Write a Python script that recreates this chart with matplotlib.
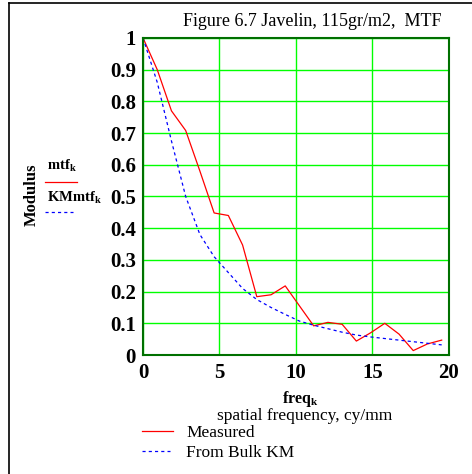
import matplotlib
matplotlib.use('Agg')
import matplotlib.pyplot as plt
from matplotlib.lines import Line2D

plt.rcParams['font.family'] = 'Liberation Serif'
plt.rcParams['mathtext.fontset'] = 'custom'
plt.rcParams['mathtext.rm'] = 'Liberation Serif'
plt.rcParams['mathtext.bf'] = 'Liberation Serif:bold'

# spatial frequency, cy/mm
freq = [0.0, 0.93, 1.86, 2.79, 3.72, 4.65, 5.58, 6.51, 7.44, 8.37, 9.30,
        10.23, 11.16, 12.09, 13.02, 13.95, 14.88, 15.81, 16.74, 17.67, 18.60, 19.53]
# measured MTF
mtf = [1.0, 0.90, 0.77, 0.708, 0.58, 0.448, 0.44, 0.347, 0.184, 0.19, 0.218,
       0.155, 0.092, 0.103, 0.097, 0.044, 0.07, 0.10, 0.066, 0.014, 0.035, 0.047]
# from bulk KM
kmmtf = [1.0, 0.86, 0.675, 0.50, 0.38, 0.31, 0.26, 0.21, 0.175, 0.15, 0.128,
         0.107, 0.094, 0.083, 0.072, 0.063, 0.057, 0.052, 0.047, 0.042, 0.037, 0.032]

xticks = [0, 5, 10, 15, 20]
yticks = [0, 0.1, 0.2, 0.3, 0.4, 0.5, 0.6, 0.7, 0.8, 0.9, 1]
ylabels = ['0', '0.1', '0.2', '0.3', '0.4', '0.5', '0.6', '0.7', '0.8', '0.9', '1']

fig = plt.figure(figsize=(4.72, 4.74), dpi=100)
ax = fig.add_axes([0.303, 0.251, 0.648, 0.669])

ax.plot(freq, mtf, color='#ff0000', lw=0.9)
ax.plot(freq, kmmtf, color='#0000ff', lw=0.9, ls=(0, (2.5, 2.5)))

ax.set_xlim(0, 20)
ax.set_ylim(0, 1)
ax.set_xticks(xticks)
ax.set_yticks(yticks)
ax.set_yticklabels(ylabels)
ax.grid(True, color='#00ff00', lw=1)
ax.tick_params(length=0, labelsize=15)
ax.tick_params(axis='y', pad=5)
ax.tick_params(axis='x', pad=6)
for lab in ax.get_xticklabels() + ax.get_yticklabels():
    lab.set_fontweight('bold')
for s in ax.spines.values():
    s.set_color('#007000')
    s.set_linewidth(1.5)

# title
fig.text(0.662, 0.955, 'Figure 6.7 Javelin, 115gr/m2,  MTF', ha='center',
         va='center', fontsize=13)

# y axis label and legend
fig.text(0.068, 0.59, 'Modulus', rotation=90, ha='center', va='center',
         fontsize=12, fontweight='bold')
fig.text(0.099, 0.651, r'$\mathbf{mtf}_\mathbf{k}$', ha='left', va='center',
         fontsize=10.5)
fig.add_artist(Line2D([0.095, 0.163], [0.617, 0.617], color='#ff0000', lw=0.9))
fig.text(0.099, 0.583, r'$\mathbf{KMmtf}_\mathbf{k}$', ha='left', va='center',
         fontsize=10.5)
fig.add_artist(Line2D([0.095, 0.155], [0.553, 0.553], color='#0000ff', lw=0.9,
                      ls=(0, (2.5, 2.5))))

# x axis label
fig.text(0.636, 0.158, r'$\mathbf{freq}_\mathbf{k}$', ha='center', va='center',
         fontsize=11.5)
fig.text(0.646, 0.122, 'spatial frequency, cy/mm', ha='center', va='center',
         fontsize=12.5)

# bottom legend
fig.add_artist(Line2D([0.301, 0.367], [0.091, 0.091], color='#ff0000', lw=0.9))
fig.text(0.394, 0.086, 'Measured', ha='left', va='center', fontsize=12.5)
fig.add_artist(Line2D([0.301, 0.361], [0.049, 0.049], color='#0000ff', lw=0.9,
                      ls=(0, (2.5, 2.5))))
fig.text(0.394, 0.044, 'From Bulk KM', ha='left', va='center', fontsize=12.5)

# outer frame
fig.add_artist(Line2D([0.019, 0.019], [0.0, 0.994], color='black', lw=1.2))
fig.add_artist(Line2D([0.019, 1.0], [0.994, 0.994], color='black', lw=1.2))

fig.savefig('out.png', dpi=100)
